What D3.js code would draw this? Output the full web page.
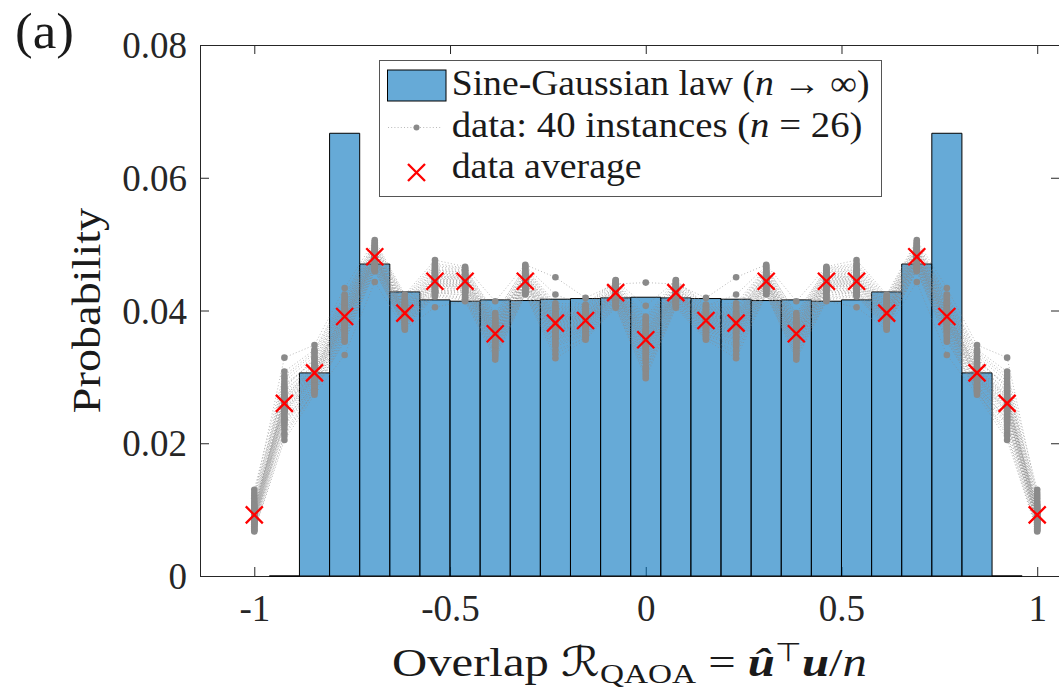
<!DOCTYPE html>
<html><head><meta charset="utf-8">
<script src="https://cdn.jsdelivr.net/npm/d3@7"></script>
<style>body{margin:0;background:#fff;} svg{display:block;}</style>
</head><body>
<svg id="chart" width="1059" height="688"></svg>
<script>
// ---------------- DATA ----------------
const overlapX = [-1,-0.9231,-0.8462,-0.7692,-0.6923,-0.6154,-0.5385,-0.4615,-0.3846,-0.3077,-0.2308,-0.1538,-0.0769,0,
  0.0769,0.1538,0.2308,0.3077,0.3846,0.4615,0.5385,0.6154,0.6923,0.7692,0.8462,0.9231,1];
const lawBinCenters = [-0.9231,-0.8462,-0.7692,-0.6923,-0.6154,-0.5385,-0.4615,-0.3846,-0.3077,-0.2308,-0.1538,-0.0769,0,
  0.0769,0.1538,0.2308,0.3077,0.3846,0.4615,0.5385,0.6154,0.6923,0.7692,0.8462,0.9231];
const lawProbability = [0,0.0306,0.0667,0.0470,0.0428,0.0416,0.0414,0.0416,0.0415,0.0417,0.0418,0.0419,0.0420,
  0.0419,0.0418,0.0417,0.0415,0.0416,0.0414,0.0416,0.0428,0.0470,0.0667,0.0306,0];
const dataAverage = [0.0092,0.0260,0.0306,0.0391,0.0481,0.0396,0.0444,0.0444,0.0365,0.0444,0.0381,0.0385,0.0427,0.0356,
  0.0427,0.0385,0.0381,0.0444,0.0365,0.0444,0.0444,0.0396,0.0481,0.0391,0.0306,0.0260,0.0092];
// 40 instances, values at |overlap| = 0, 1/13, ..., 13/13 (the picture is mirror symmetric)
const samplesAbs00 = [0.0357,0.0334,0.0378,0.0322,0.0366,0.0346,0.0388,0.0310,0.0361,0.0340,0.0442,0.0353,0.0328,0.0372,0.0343,0.0391,0.0359,0.0302,0.0383,0.0350,0.0325,0.0369,0.0298,0.0385,0.0348,0.0364,0.0316,0.0407,0.0356,0.0337,0.0375,0.0306,0.0362,0.0352,0.0380,0.0331,0.0367,0.0345,0.0370,0.0313];
const samplesAbs01 = [0.0427,0.0419,0.0436,0.0414,0.0431,0.0423,0.0441,0.0409,0.0429,0.0421,0.0440,0.0426,0.0416,0.0434,0.0422,0.0446,0.0428,0.0406,0.0438,0.0425,0.0415,0.0432,0.0404,0.0443,0.0424,0.0430,0.0412,0.0445,0.0427,0.0418,0.0435,0.0408,0.0429,0.0425,0.0439,0.0417,0.0433,0.0422,0.0437,0.0411];
const samplesAbs02 = [0.0386,0.0374,0.0398,0.0368,0.0392,0.0380,0.0404,0.0362,0.0388,0.0377,0.0419,0.0384,0.0371,0.0396,0.0379,0.0409,0.0387,0.0358,0.0401,0.0382,0.0369,0.0393,0.0356,0.0406,0.0381,0.0390,0.0365,0.0407,0.0385,0.0375,0.0397,0.0360,0.0389,0.0383,0.0402,0.0372,0.0391,0.0378,0.0395,0.0364];
const samplesAbs03 = [0.0382,0.0365,0.0398,0.0356,0.0389,0.0372,0.0405,0.0346,0.0385,0.0368,0.0450,0.0379,0.0360,0.0394,0.0370,0.0411,0.0383,0.0340,0.0401,0.0376,0.0358,0.0391,0.0328,0.0407,0.0374,0.0387,0.0352,0.0424,0.0381,0.0366,0.0396,0.0334,0.0386,0.0377,0.0403,0.0362,0.0390,0.0371,0.0393,0.0349];
const samplesAbs04 = [0.0445,0.0436,0.0455,0.0431,0.0449,0.0440,0.0461,0.0427,0.0447,0.0438,0.0469,0.0443,0.0433,0.0453,0.0439,0.0465,0.0446,0.0425,0.0458,0.0442,0.0432,0.0451,0.0424,0.0463,0.0441,0.0448,0.0429,0.0467,0.0444,0.0437,0.0454,0.0426,0.0450,0.0442,0.0459,0.0434,0.0452,0.0439,0.0456,0.0430];
const samplesAbs05 = [0.0366,0.0351,0.0381,0.0343,0.0373,0.0358,0.0390,0.0335,0.0369,0.0354,0.0414,0.0363,0.0347,0.0378,0.0356,0.0396,0.0367,0.0330,0.0385,0.0361,0.0345,0.0375,0.0326,0.0388,0.0359,0.0371,0.0340,0.0393,0.0365,0.0352,0.0380,0.0333,0.0370,0.0362,0.0384,0.0349,0.0374,0.0357,0.0377,0.0338];
const samplesAbs06 = [0.0444,0.0433,0.0455,0.0427,0.0449,0.0438,0.0461,0.0420,0.0446,0.0436,0.0466,0.0442,0.0430,0.0453,0.0437,0.0464,0.0445,0.0416,0.0458,0.0440,0.0428,0.0450,0.0414,0.0460,0.0439,0.0448,0.0424,0.0463,0.0443,0.0434,0.0454,0.0418,0.0447,0.0441,0.0457,0.0431,0.0451,0.0436,0.0452,0.0422];
const samplesAbs07 = [0.0445,0.0433,0.0458,0.0427,0.0451,0.0439,0.0466,0.0424,0.0447,0.0436,0.0476,0.0443,0.0430,0.0455,0.0438,0.0471,0.0446,0.0421,0.0461,0.0441,0.0429,0.0452,0.0405,0.0463,0.0440,0.0449,0.0426,0.0468,0.0444,0.0434,0.0457,0.0423,0.0448,0.0442,0.0460,0.0431,0.0450,0.0437,0.0454,0.0428];
const samplesAbs08 = [0.0397,0.0386,0.0410,0.0380,0.0403,0.0391,0.0417,0.0375,0.0399,0.0389,0.0424,0.0395,0.0383,0.0407,0.0390,0.0421,0.0398,0.0373,0.0413,0.0393,0.0381,0.0404,0.0371,0.0415,0.0392,0.0401,0.0378,0.0419,0.0396,0.0387,0.0409,0.0376,0.0400,0.0394,0.0412,0.0384,0.0402,0.0390,0.0406,0.0379];
const samplesAbs09 = [0.0482,0.0472,0.0493,0.0466,0.0487,0.0477,0.0499,0.0462,0.0484,0.0474,0.0506,0.0480,0.0469,0.0490,0.0476,0.0503,0.0483,0.0460,0.0495,0.0479,0.0468,0.0488,0.0443,0.0497,0.0478,0.0486,0.0465,0.0501,0.0481,0.0473,0.0491,0.0459,0.0485,0.0479,0.0496,0.0470,0.0489,0.0475,0.0492,0.0463];
const samplesAbs10 = [0.0391,0.0376,0.0409,0.0368,0.0398,0.0383,0.0418,0.0360,0.0394,0.0379,0.0434,0.0388,0.0372,0.0405,0.0381,0.0424,0.0392,0.0356,0.0412,0.0386,0.0370,0.0401,0.0333,0.0415,0.0384,0.0397,0.0365,0.0421,0.0390,0.0378,0.0407,0.0353,0.0395,0.0387,0.0411,0.0374,0.0399,0.0382,0.0403,0.0362];
const samplesAbs11 = [0.0306,0.0291,0.0322,0.0284,0.0313,0.0298,0.0335,0.0279,0.0309,0.0295,0.0348,0.0303,0.0288,0.0318,0.0297,0.0341,0.0307,0.0276,0.0326,0.0301,0.0286,0.0315,0.0273,0.0331,0.0299,0.0311,0.0283,0.0338,0.0304,0.0293,0.0320,0.0281,0.0310,0.0300,0.0328,0.0287,0.0314,0.0296,0.0305,0.0278];
const samplesAbs12 = [0.0262,0.0241,0.0289,0.0229,0.0271,0.0252,0.0298,0.0215,0.0266,0.0247,0.0329,0.0258,0.0235,0.0280,0.0249,0.0308,0.0264,0.0221,0.0285,0.0256,0.0238,0.0274,0.0205,0.0293,0.0251,0.0269,0.0232,0.0302,0.0260,0.0244,0.0277,0.0226,0.0267,0.0254,0.0283,0.0236,0.0271,0.0248,0.0258,0.0211];
const samplesAbs13 = [0.0092,0.0081,0.0104,0.0075,0.0098,0.0087,0.0113,0.0070,0.0095,0.0083,0.0121,0.0089,0.0078,0.0101,0.0085,0.0130,0.0093,0.0072,0.0107,0.0090,0.0080,0.0096,0.0067,0.0110,0.0086,0.0099,0.0077,0.0117,0.0091,0.0084,0.0102,0.0074,0.0094,0.0088,0.0125,0.0079,0.0097,0.0082,0.0106,0.0069];
const xTickValues = [-1,-0.5,0,0.5,1];
const xTickLabels = ['-1','-0.5','0','0.5','1'];
const yTickValues = [0,0.02,0.04,0.06,0.08];
const yTickLabels = ['0','0.02','0.04','0.06','0.08'];

// ---------------- CHART ----------------
const samplesByAbs = [samplesAbs00,samplesAbs01,samplesAbs02,samplesAbs03,samplesAbs04,samplesAbs05,samplesAbs06,
  samplesAbs07,samplesAbs08,samplesAbs09,samplesAbs10,samplesAbs11,samplesAbs12,samplesAbs13];
const mid = (overlapX.length - 1) / 2;
const instances = d3.range(samplesAbs00.length).map(i =>
  overlapX.map((v, j) => ({x: v, y: samplesByAbs[Math.abs(j - mid)][i]})));

const FONT = "'Liberation Serif','Times New Roman',serif";
const AX = '#262626';
const svg = d3.select('#chart');
const x = d3.scaleLinear().domain([-1.1387, 1.0582]).range([200, 1060]);
const y = d3.scaleLinear().domain([0, 0.08]).range([576, 45]);

// axes (beneath data, as in the original)
const axes = svg.append('g');
function styleAxis(g) {
  g.attr('font-family', FONT).attr('font-size', 37);
  g.selectAll('path.domain').attr('stroke', AX).attr('stroke-width', 1);
  g.selectAll('.tick line').attr('stroke', AX).attr('stroke-width', 1);
  g.selectAll('.tick text').attr('fill', '#262626');
}
const gB = axes.append('g').attr('transform', `translate(0,${y(0)})`)
  .call(d3.axisBottom(x).tickValues(xTickValues).tickSize(-9).tickSizeOuter(0)
    .tickFormat((d, i) => xTickLabels[i]));
gB.selectAll('.tick text').attr('y', 45).attr('dy', 0);
styleAxis(gB);
const gT = axes.append('g').attr('transform', `translate(0,${y(0.08)})`)
  .call(d3.axisTop(x).tickValues(xTickValues).tickSize(-9).tickSizeOuter(0).tickFormat(''));
styleAxis(gT);
const gL = axes.append('g').attr('transform', `translate(${x.range()[0]},0)`)
  .call(d3.axisLeft(y).tickValues(yTickValues).tickSize(-9).tickSizeOuter(0)
    .tickFormat((d, i) => yTickLabels[i]));
gL.selectAll('.tick text').attr('x', -13).attr('dy', '0.34em');
styleAxis(gL);
const gR = axes.append('g').attr('transform', `translate(${x.range()[1]},0)`)
  .call(d3.axisRight(y).tickValues(yTickValues).tickSize(-9).tickSizeOuter(0).tickFormat(''));
styleAxis(gR);

// histogram bars (Sine-Gaussian law)
const halfBin = (lawBinCenters[1] - lawBinCenters[0]) / 2;
svg.append('g').selectAll('path').data(lawBinCenters).join('path')
  .attr('d', (c, i) => {
    const x0 = x(c - halfBin), x1 = x(c + halfBin), y0 = y(0), y1 = y(lawProbability[i]);
    return `M${x0},${y0}V${y1}H${x1}V${y0}Z`;
  })
  .attr('fill', '#0072BD').attr('fill-opacity', 0.6)
  .attr('stroke', '#000').attr('stroke-width', 1);

// instance lines (dotted) and dots
const line = d3.line().x(d => x(d.x)).y(d => y(d.y));
const gInst = svg.append('g');
gInst.selectAll('path').data(instances).join('path')
  .attr('d', line).attr('fill', 'none')
  .attr('stroke', '#8a8a8a').attr('stroke-width', 0.6).attr('stroke-dasharray', '1,2.2');
gInst.selectAll('circle').data(instances.flat()).join('circle')
  .attr('cx', d => x(d.x)).attr('cy', d => y(d.y)).attr('r', 3.3).attr('fill', '#8a8a8a');

// average crosses
const S = 8.5;
const crossPath = `M${-S},${-S}L${S},${S}M${-S},${S}L${S},${-S}`;
svg.append('g').selectAll('path').data(dataAverage).join('path')
  .attr('transform', (d, i) => `translate(${x(overlapX[i])},${y(d)})`)
  .attr('d', crossPath).attr('fill', 'none').attr('stroke', '#ff0000').attr('stroke-width', 2.3);

// helper: text fitted to a width (horizontal scale only)
function fittedText(parent, tx, ty, width, size, parts, anchor, rotate) {
  const g = parent.append('g');
  const t = g.append('text').attr('font-family', FONT).attr('font-size', size).attr('fill', '#1a1a1a')
    .attr('text-anchor', anchor || 'start');
  parts.forEach(p => {
    const s = t.append('tspan').text(p.t);
    if (p.i) s.attr('font-style', 'italic');
    if (p.b) s.attr('font-weight', 'bold');
    if (p.fs) s.attr('font-size', p.fs);
    if (p.dy) s.attr('dy', p.dy);
    if (p.ff) s.attr('font-family', p.ff);
  });
  const w = t.node().getBBox().width;
  const sx = width / w;
  g.attr('transform', `translate(${tx},${ty})${rotate ? ` rotate(${rotate})` : ''} scale(${sx},1)`);
  return g;
}

// panel label
fittedText(svg, 15, 48, 59, 50, [{t: '(a)'}]);

// axis labels
fittedText(svg, 100, (y(0) + y(0.08)) / 2, 206, 41, [{t: 'Probability'}], 'middle', -90);
fittedText(svg, 392, 676, 475, 41, [
  {t: 'Overlap '},
  {t: 'ℛ', ff: "'DejaVu Serif','DejaVu Sans',serif", i: true},
  {t: 'QAOA', fs: 28, dy: 7},
  {t: ' = ', dy: -7},
  {t: 'û', b: true, i: true},
  {t: '⊤', fs: 26, dy: -15, ff: "'DejaVu Sans',sans-serif"},
  {t: 'u', b: true, i: true, dy: 15},
  {t: '/'},
  {t: 'n', i: true}
]);

// legend
const lg = svg.append('g');
lg.append('rect').attr('x', 379.5).attr('y', 60.5).attr('width', 502).attr('height', 136)
  .attr('fill', '#fff').attr('stroke', '#555').attr('stroke-width', 1);
lg.append('rect').attr('x', 387.5).attr('y', 70).attr('width', 58.5).attr('height', 31)
  .attr('fill', '#0072BD').attr('fill-opacity', 0.6).attr('stroke', '#000').attr('stroke-width', 1);
lg.append('line').attr('x1', 388).attr('x2', 442).attr('y1', 127.5).attr('y2', 127.5)
  .attr('stroke', '#8a8a8a').attr('stroke-width', 0.6).attr('stroke-dasharray', '1,2.2');
lg.append('circle').attr('cx', 416.5).attr('cy', 127.5).attr('r', 3).attr('fill', '#8a8a8a');
lg.append('path').attr('transform', 'translate(416.5,172.5)').attr('d', crossPath)
  .attr('fill', 'none').attr('stroke', '#ff0000').attr('stroke-width', 2.3);
fittedText(lg, 451.7, 95, 418, 35, [{t: 'Sine-Gaussian law ('}, {t: 'n', i: true}, {t: ' → ∞)'}]);
fittedText(lg, 451.7, 136.7, 411, 35, [{t: 'data:  40 instances ('}, {t: 'n', i: true}, {t: ' = 26)'}]);
fittedText(lg, 451.7, 178.3, 190, 35, [{t: 'data average'}]);
</script>
</body></html>
